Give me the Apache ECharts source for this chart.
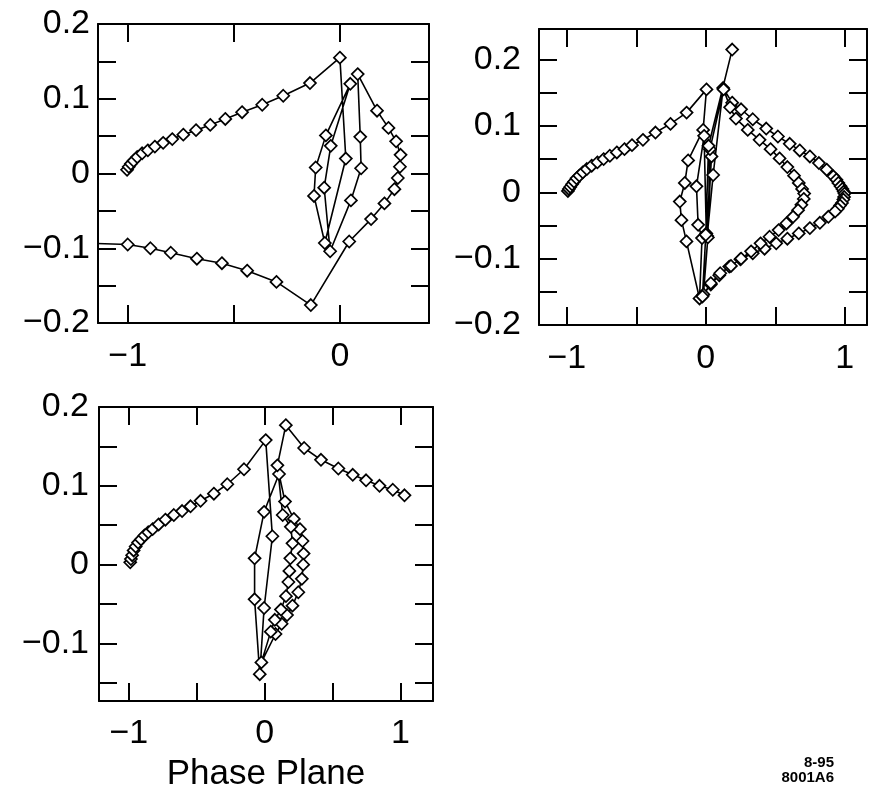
<!DOCTYPE html>
<html>
<head>
<meta charset="utf-8">
<script src="https://cdn.jsdelivr.net/npm/echarts@6.0.0/dist/echarts.min.js"></script>
<style>
  html, body { margin: 0; padding: 0; background: #fff; }
  #main { width: 878px; height: 794px; }
</style>
</head>
<body>
<div id="main"></div>
<script>
// panel 1 (top left): approach, inner loops, return
var p1Approach = [[-1.003,0.005],[-0.995,0.009],[-0.985,0.013],[-0.972,0.017],[-0.955,0.022],[-0.932,0.027],[-0.905,0.031],[-0.872,0.036],[-0.833,0.041],[-0.790,0.046],[-0.738,0.052],[-0.678,0.058],[-0.611,0.065],[-0.540,0.073],[-0.461,0.082],[-0.366,0.092],[-0.267,0.104],[-0.141,0.121],[0.000,0.155]];
var p1Loops = [[0.028,0.020],[-0.071,-0.093],[-0.122,-0.030],[-0.114,0.008],[-0.066,0.051],[0.049,0.120],[-0.043,0.037],[-0.074,-0.019],[-0.046,-0.104],[0.052,-0.036],[0.100,0.007],[0.096,0.049],[0.084,0.133],[0.175,0.084],[0.229,0.061],[0.265,0.043],[0.286,0.025],[0.283,0.009],[0.273,-0.006],[0.257,-0.021],[0.210,-0.040],[0.147,-0.061],[0.044,-0.091]];
var p1Return = [[-0.137,-0.176],[-0.299,-0.145],[-0.437,-0.130],[-0.556,-0.120],[-0.674,-0.114],[-0.797,-0.106],[-0.893,-0.100],[-1.000,-0.095],[-1.300,-0.092]];

// panel 2 (top right)
var p2Approach = [[-0.992,0.002],[-0.985,0.005],[-0.975,0.008],[-0.962,0.012],[-0.948,0.016],[-0.930,0.021],[-0.910,0.025],[-0.885,0.030],[-0.856,0.035],[-0.821,0.040],[-0.780,0.045],[-0.735,0.050],[-0.690,0.055],[-0.640,0.060],[-0.585,0.065],[-0.531,0.071],[-0.452,0.079],[-0.362,0.090],[-0.254,0.103],[-0.138,0.120],[0.005,0.155]];
var p2Core = [[-0.019,0.094],[-0.127,0.048],[-0.151,0.014],[-0.187,-0.014],[-0.175,-0.042],[-0.139,-0.074],[-0.045,-0.160],[-0.027,-0.069],[-0.055,-0.049],[-0.067,0.009],[-0.012,0.085],[0.004,-0.062],[0.041,0.054],[0.010,-0.066],[0.053,0.026],[0.125,0.157]];
var p2Outer = [[0.190,0.135],[0.254,0.125],[0.338,0.110],[0.435,0.096],[0.519,0.084],[0.604,0.073],[0.676,0.063],[0.749,0.054],[0.814,0.044],[0.870,0.034],[0.918,0.024],[0.940,0.019],[0.954,0.014],[0.970,0.009],[0.983,0.005],[0.992,0.001],[0.998,-0.002],[0.995,-0.007],[0.990,-0.011],[0.980,-0.016],[0.966,-0.020],[0.950,-0.025],[0.930,-0.029],[0.882,-0.037],[0.821,-0.046],[0.749,-0.054],[0.669,-0.062],[0.587,-0.070],[0.507,-0.077],[0.423,-0.085],[0.338,-0.092],[0.249,-0.101],[0.169,-0.112],[0.097,-0.125],[0.036,-0.139],[-0.017,-0.154]];
var p2Middle = [[0.015,-0.068],[0.030,0.065],[0.128,0.155]];
var p2Inner = [[0.175,0.128],[0.217,0.111],[0.302,0.094],[0.387,0.079],[0.466,0.065],[0.531,0.051],[0.587,0.038],[0.635,0.025],[0.669,0.014],[0.693,0.005],[0.708,-0.002],[0.705,-0.010],[0.688,-0.019],[0.664,-0.027],[0.628,-0.037],[0.580,-0.047],[0.524,-0.057],[0.459,-0.067],[0.394,-0.077],[0.326,-0.089],[0.254,-0.100],[0.181,-0.111],[0.104,-0.122],[0.036,-0.137],[-0.024,-0.157]];
var p2Exit = [[0.000,-0.064],[0.020,0.070],[0.190,0.215]];

// panel 3 (bottom left)
var p3Approach = [[-0.990,0.003],[-0.985,0.007],[-0.976,0.012],[-0.965,0.018],[-0.950,0.023],[-0.932,0.028],[-0.911,0.032],[-0.885,0.037],[-0.857,0.041],[-0.825,0.045],[-0.781,0.051],[-0.731,0.057],[-0.669,0.063],[-0.608,0.068],[-0.546,0.074],[-0.472,0.081],[-0.374,0.090],[-0.275,0.102],[-0.152,0.121],[0.008,0.158]];
var p3Core = [[0.057,0.036],[-0.004,-0.055],[-0.036,-0.139],[-0.074,-0.044],[-0.074,0.008],[-0.004,0.067],[0.106,0.115]];
var p3Outer = [[0.150,0.080],[0.215,0.058],[0.260,0.045],[0.279,0.030],[0.287,0.014],[0.284,0.000],[0.274,-0.018],[0.248,-0.035],[0.205,-0.052],[0.165,-0.064],[0.125,-0.075],[0.080,-0.088],[-0.024,-0.124]];
var p3Inner = [[0.045,-0.085],[0.075,-0.070],[0.120,-0.057],[0.157,-0.040],[0.175,-0.022],[0.182,-0.008],[0.189,0.008],[0.205,0.027],[0.193,0.048],[0.133,0.063],[0.094,0.126]];
var p3Exit = [[0.156,0.177],[0.291,0.148],[0.415,0.133],[0.543,0.122],[0.649,0.114],[0.747,0.107],[0.846,0.100],[0.944,0.095],[1.030,0.088]];

// ticks and labels
var p1XTicks = [-1, -0.5, 0];
var p1XLabels = [-1, 0];
var xTicksWide = [-1, -0.5, 0, 0.5, 1];
var xLabelsWide = [-1, 0, 1];
var yTicks = [-0.2, -0.15, -0.1, -0.05, 0, 0.05, 0.1, 0.15, 0.2];
var yTicks3 = [-0.15, -0.1, -0.05, 0, 0.05, 0.1, 0.15, 0.2];
var yLabels = [-0.2, -0.1, 0, 0.1, 0.2];
var yLabels3 = [-0.1, 0, 0.1, 0.2];

var FONT = 'Liberation Sans';

function fmt(v) {
    return (v < 0 ? '\u2212' : '') + String(Math.abs(v));
}

function axis(gi, pos, min, max, ticks, labels, margin, extra) {
    var a = {
        type: 'value',
        gridIndex: gi,
        position: pos,
        min: min,
        max: max,
        axisLine: { show: true, onZero: false, lineStyle: { color: '#000', width: 2 } },
        axisTick: { show: true, inside: true, length: 18, customValues: ticks, lineStyle: { color: '#000', width: 2 } },
        axisLabel: labels ? {
            customValues: labels,
            formatter: fmt,
            color: '#000',
            fontSize: 34,
            fontFamily: FONT,
            margin: margin,
            showMinLabel: true,
            showMaxLabel: true
        } : { show: false },
        splitLine: { show: false }
    };
    return Object.assign(a, extra || {});
}

function path(gi) {
    var pts = [];
    for (var i = 1; i < arguments.length; i++) pts = pts.concat(arguments[i]);
    return {
        type: 'line',
        xAxisIndex: gi * 2,
        yAxisIndex: gi * 2,
        data: pts,
        clip: true,
        symbol: 'diamond',
        symbolSize: 12,
        showAllSymbol: true,
        animation: false,
        lineStyle: { color: '#000', width: 1.6 },
        itemStyle: { color: '#fff', borderColor: '#000', borderWidth: 1.7 }
    };
}

var option = {
    backgroundColor: '#fff',
    animation: false,
    grid: [
        { left: 98, top: 24, width: 331, height: 299 },
        { left: 539, top: 29, width: 328, height: 296 },
        { left: 99, top: 407, width: 334, height: 294 }
    ],
    xAxis: [
        axis(0, 'bottom', -1.14, 0.42, p1XTicks, p1XLabels, 17),
        axis(0, 'top', -1.14, 0.42, p1XTicks, null),
        axis(1, 'bottom', -1.2, 1.16, xTicksWide, xLabelsWide, 17),
        axis(1, 'top', -1.2, 1.16, xTicksWide, null),
        axis(2, 'bottom', -1.22, 1.24, xTicksWide, xLabelsWide, 16, {
            name: 'Phase Plane',
            nameLocation: 'middle',
            nameGap: 56,
            nameTextStyle: { color: '#000', fontSize: 35, fontFamily: FONT }
        }),
        axis(2, 'top', -1.22, 1.24, xTicksWide, null)
    ],
    yAxis: [
        axis(0, 'left', -0.2, 0.2, yTicks, yLabels, 8),
        axis(0, 'right', -0.2, 0.2, yTicks, null),
        axis(1, 'left', -0.2, 0.246, yTicks, yLabels, 18),
        axis(1, 'right', -0.2, 0.246, yTicks, null),
        axis(2, 'left', -0.173, 0.2, yTicks3, yLabels3, 10),
        axis(2, 'right', -0.173, 0.2, yTicks3, null)
    ],
    graphic: [
        { type: 'text', right: 44, top: 755, style: { text: '8-95', fill: '#000', font: 'bold 15px "Liberation Sans"', textAlign: 'right' } },
        { type: 'text', right: 44, top: 770, style: { text: '8001A6', fill: '#000', font: 'bold 15px "Liberation Sans"', textAlign: 'right' } }
    ],
    series: [
        path(0, p1Approach, p1Loops, p1Return),
        path(1, p2Approach, p2Core, p2Outer, p2Middle, p2Inner, p2Exit),
        path(2, p3Approach, p3Core, p3Outer, p3Inner, p3Exit)
    ]
};

var myChart = echarts.init(document.getElementById('main'));
myChart.setOption(option);
</script>
</body>
</html>
